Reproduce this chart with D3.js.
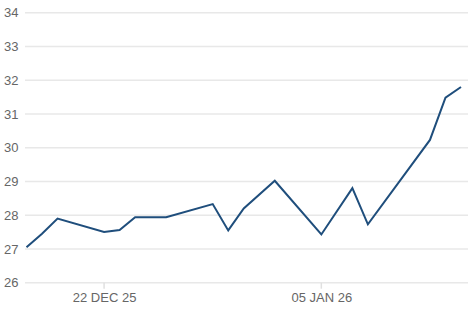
<!DOCTYPE html>
<html><head><meta charset="utf-8">
<script src="https://cdn.jsdelivr.net/npm/d3@7"></script>
<style>body{margin:0;background:#fff}svg{display:block}</style>
</head><body>
<svg id="c" width="468" height="312"></svg>
<script>
const dates = ["2025-12-17","2025-12-18","2025-12-19","2025-12-22","2025-12-23","2025-12-24","2025-12-26","2025-12-29","2025-12-30","2025-12-31","2026-01-02","2026-01-05","2026-01-07","2026-01-08","2026-01-12","2026-01-13","2026-01-14"];
const values = [27.05,27.45,27.9,27.5,27.56,27.94,27.94,28.33,27.55,28.2,29.02,27.43,28.8,27.73,30.23,31.48,31.8];
const yTicks = [26,27,28,29,30,31,32,33,34];
const xTickDates = ["2025-12-22","2026-01-05"];
const xTickLabels = ["22 DEC 25","05 JAN 26"];

(function(){
const parse = d3.utcParse("%Y-%m-%d");
const data = dates.map((d,i)=>({date:parse(d), v:values[i]}));
const svg = d3.select("#c");
const mLeft = 25, mRight = 461, mTop = 12.7, mBottom = 282.7;
const x = d3.scaleUtc().domain([parse("2025-12-17"), parse("2026-01-14")]).range([mLeft+1.5, mRight]);
const y = d3.scaleLinear().domain([26,34]).range([mBottom, mTop]);
const font = "Liberation Sans, Arial, sans-serif";

svg.append("g").selectAll("line").data(yTicks).join("line")
  .attr("x1", mLeft).attr("x2", 468)
  .attr("y1", d=>y(d)).attr("y2", d=>y(d))
  .attr("stroke", "#e8e8e8").attr("stroke-width", 1.5);

svg.append("g").selectAll("text").data(yTicks).join("text")
  .attr("x", 18.5).attr("y", d=>y(d)).attr("dy","0.35em")
  .attr("text-anchor","end")
  .attr("font-family", font).attr("font-size", 13).attr("fill","#666")
  .text(d=>d);

const xt = xTickDates.map((d,i)=>({date:parse(d), label:xTickLabels[i]}));
svg.append("g").selectAll("line").data(xt).join("line")
  .attr("x1", d=>x(d.date)).attr("x2", d=>x(d.date))
  .attr("y1", mBottom).attr("y2", mBottom+6)
  .attr("stroke", "#e0e0e0").attr("stroke-width", 1.5);
svg.append("g").selectAll("text").data(xt).join("text")
  .attr("x", d=>x(d.date)+0.5).attr("y", 297).attr("dy","0.35em")
  .attr("text-anchor","middle")
  .attr("font-family", font).attr("font-size", 13).attr("fill","#666")
  .text(d=>d.label);

svg.append("path").datum(data)
  .attr("fill","none").attr("stroke","#1f4e7c").attr("stroke-width",2)
  .attr("stroke-linejoin","miter")
  .attr("d", d3.line().x(d=>x(d.date)).y(d=>y(d.v)));
})();
</script>
</body></html>
